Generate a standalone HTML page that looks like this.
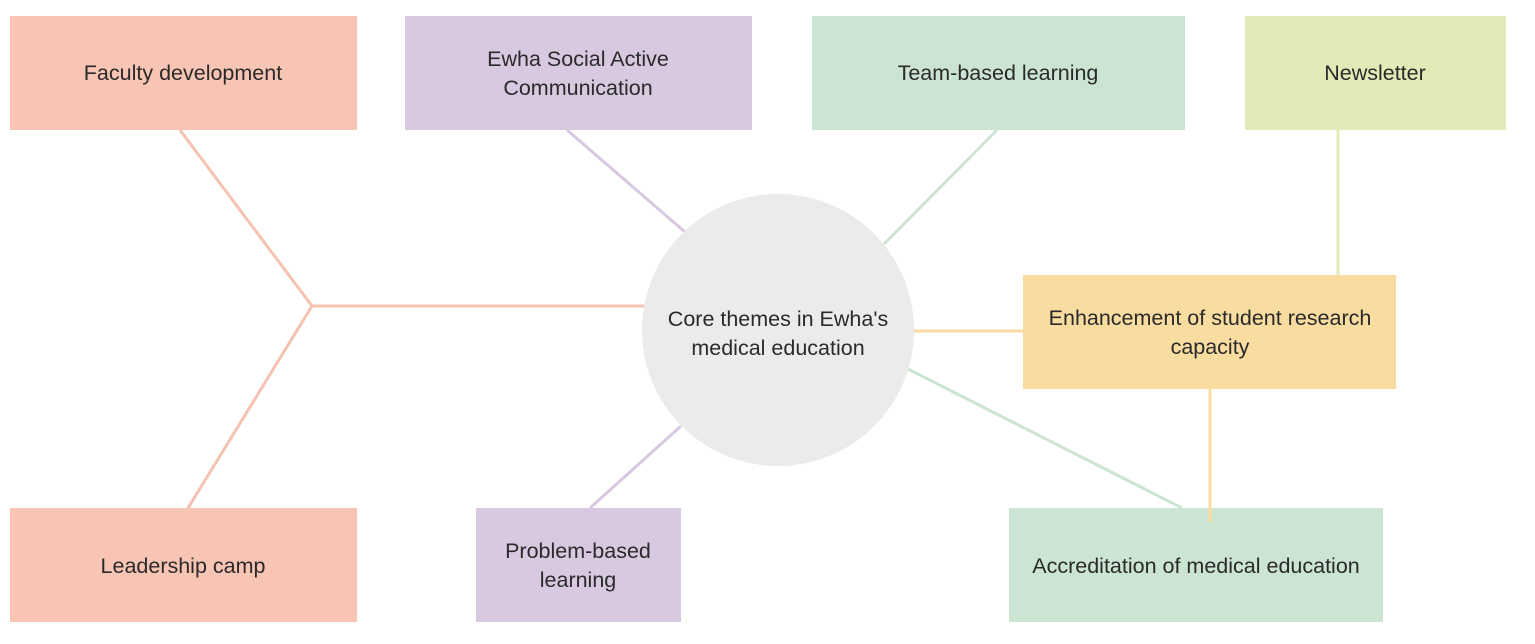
<!DOCTYPE html>
<html><head><meta charset="utf-8"><style>
body{margin:0;background:#fff;}
svg text{font-family:"Liberation Sans","DejaVu Sans",sans-serif;font-size:21.5px;fill:#2a2a2a;text-anchor:middle;}
</style></head><body>
<svg width="1535" height="639" viewBox="0 0 1535 639" xmlns="http://www.w3.org/2000/svg">
<g stroke-width="3" fill="none">
<polyline points="180,130 312,306 188,508" stroke="#f5c2b2"/>
<line x1="312" y1="306" x2="650" y2="306" stroke="#f5c2b2"/>
<line x1="567" y1="130" x2="685" y2="232" stroke="#d8c8e0"/>
<line x1="997" y1="130" x2="884" y2="244" stroke="#cce4d2"/>
<line x1="1338" y1="130" x2="1338" y2="275" stroke="#e2ebb8"/>
<line x1="910" y1="331" x2="1023" y2="331" stroke="#f8dca0"/>
<line x1="1210" y1="389" x2="1210" y2="522" stroke="#f8dca0"/>
<line x1="906" y1="368" x2="1182" y2="508" stroke="#cce4d2"/>
<line x1="681" y1="426" x2="590" y2="508" stroke="#d8c8e0"/>
</g>
<circle cx="778" cy="330" r="136" fill="#ecebe9"/>
<rect x="10" y="16" width="347" height="114" fill="#f8c4b4"/>
<rect x="405" y="16" width="347" height="114" fill="#d8c8e0"/>
<rect x="812" y="16" width="373" height="114" fill="#cce4d2"/>
<rect x="1245" y="16" width="261" height="114" fill="#e2ebb8"/>
<rect x="1023" y="275" width="373" height="114" fill="#f8dca0"/>
<rect x="10" y="508" width="347" height="114" fill="#f8c4b4"/>
<rect x="476" y="508" width="205" height="114" fill="#d8c8e0"/>
<rect x="1009" y="508" width="374" height="114" fill="#cce4d2"/>
<line x1="1210" y1="508" x2="1210" y2="522" stroke="#f8dca0" stroke-width="3"/>
<text x="183" y="80">Faculty development</text>
<text x="578" y="66">Ewha Social Active</text>
<text x="578" y="95">Communication</text>
<text x="998" y="80">Team-based learning</text>
<text x="1375" y="80">Newsletter</text>
<text x="778" y="326">Core themes in Ewha's</text>
<text x="778" y="355">medical education</text>
<text x="1210" y="325">Enhancement of student research</text>
<text x="1210" y="354">capacity</text>
<text x="183" y="573">Leadership camp</text>
<text x="578" y="558">Problem-based</text>
<text x="578" y="587">learning</text>
<text x="1196" y="573">Accreditation of medical education</text>
</svg>
</body></html>
